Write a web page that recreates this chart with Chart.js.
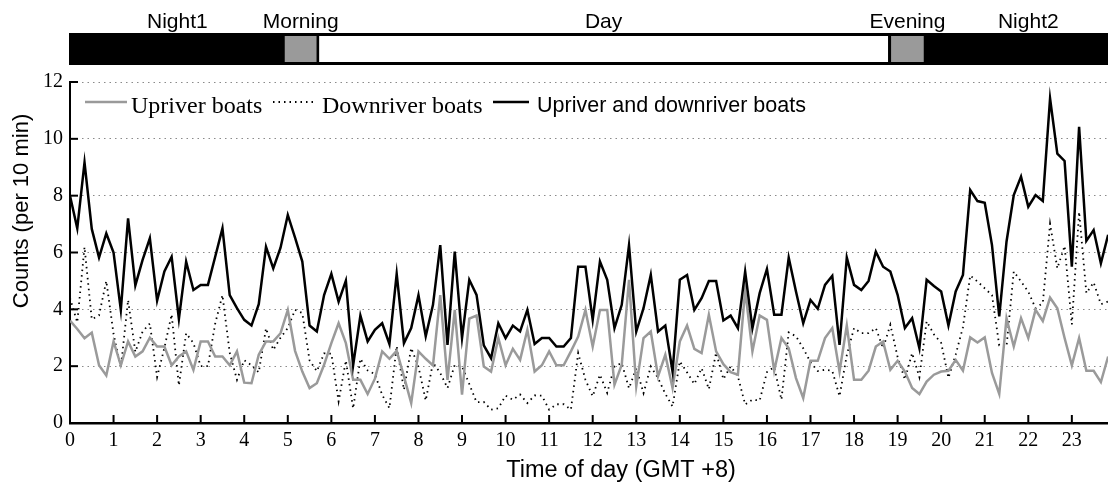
<!DOCTYPE html>
<html>
<head>
<meta charset="utf-8">
<script src="https://cdn.jsdelivr.net/npm/chart.js@4.4.0/dist/chart.umd.min.js"></script>
<style>
  html, body { margin: 0; padding: 0; background: #fff; }
  canvas { display: block; }
</style>
</head>
<body>
<canvas id="myChart" width="1108" height="485"></canvas>
<script>
// boat counts per 10 min, one value per 10-minute slot from 00:00 to 23:50
const upriver = [
  3.6, 3.31, 2.98, 3.18, 2.03, 1.67, 2.87, 2.03, 2.87, 2.34, 2.52, 3.0, 2.69, 2.69, 2.03, 2.34, 2.52, 1.87, 2.87, 2.87, 2.34, 2.34, 2.03, 2.52, 1.42,
  1.4, 2.4, 2.87, 2.87, 3.16, 3.98, 2.54, 1.81, 1.23, 1.4, 2.05, 2.81, 3.51, 2.81, 1.52, 1.52, 1.02, 1.56, 2.52, 2.26, 2.54, 1.64, 0.7, 2.52, 2.26,
  2.03, 4.5, 1.52, 3.98, 1.0, 3.67, 3.78, 1.99, 1.81, 2.99, 2.03, 2.61, 2.22, 3.28, 1.81, 2.03, 2.52, 2.03, 2.03, 2.52, 3.04, 3.98, 2.69, 3.98, 3.98,
  1.35, 2.05, 5.04, 1.29, 2.99, 3.22, 1.64, 2.4, 1.23, 2.87, 3.43, 2.61, 2.46, 3.81, 2.52, 2.07, 1.79, 1.7, 4.68, 2.52, 3.78, 3.63, 1.84, 2.99, 2.63,
  1.58, 0.88, 2.19, 2.19, 2.99, 3.34, 1.81, 3.43, 1.52, 1.52, 1.84, 2.69, 2.87, 1.87, 2.19, 1.81, 1.23, 1.02, 1.46, 1.7, 1.81, 1.84, 2.22, 1.84, 3.01,
  2.83, 3.01, 1.76, 1.02, 3.69, 2.69, 3.69, 2.99, 3.98, 3.59, 4.41, 4.04, 2.99, 2.03, 2.99, 1.84, 1.84, 1.44, 2.34
];
const downriver = [
  4.4, 3.54, 6.19, 3.65, 3.79, 5.0, 3.13, 1.95, 4.33, 2.5, 3.22, 3.5, 1.62, 2.64, 3.82, 1.32, 3.16, 2.81, 2.0, 2.0, 3.5, 4.5, 2.47, 1.52, 2.21,
  2.03, 1.78, 3.33, 2.57, 3.0, 3.34, 3.98, 3.87, 2.2, 1.82, 2.45, 2.44, 0.76, 2.2, 0.51, 2.26, 1.85, 1.72, 0.99, 0.52, 2.71, 1.17, 2.64, 1.98, 0.79,
  2.13, 1.76, 1.23, 2.05, 1.99, 1.37, 0.73, 0.74, 0.47, 0.52, 0.96, 0.82, 1.0, 0.7, 0.97, 0.96, 0.47, 0.66, 0.66, 0.47, 2.46, 1.52, 0.94, 1.7, 1.06,
  1.99, 2.11, 1.22, 1.93, 1.05, 1.99, 1.58, 1.03, 0.58, 2.17, 1.78, 1.37, 1.93, 1.19, 2.48, 1.54, 1.99, 1.64, 0.65, 0.82, 0.79, 1.79, 1.97, 0.82, 3.19,
  3.05, 2.63, 2.14, 1.83, 1.87, 1.84, 0.94, 2.39, 3.34, 3.16, 3.16, 3.34, 2.63, 3.46, 2.32, 1.53, 2.46, 1.61, 3.58, 3.12, 2.82, 1.59, 2.41, 3.37, 5.19,
  4.98, 4.74, 4.5, 2.73, 2.69, 5.33, 4.98, 4.62, 4.04, 4.22, 7.01, 5.44, 6.23, 3.47, 7.43, 4.57, 4.95, 4.18, 4.28
];
const bothWays = [
  8.0, 6.85, 9.17, 6.83, 5.82, 6.67, 6.0, 3.98, 7.2, 4.84, 5.74, 6.5, 4.31, 5.33, 5.85, 3.66, 5.68, 4.68, 4.86, 4.86, 5.85, 6.85, 4.5, 4.04, 3.63,
  3.43, 4.18, 6.2, 5.44, 6.17, 7.32, 6.52, 5.68, 3.43, 3.22, 4.5, 5.25, 4.27, 5.01, 2.03, 3.78, 2.87, 3.28, 3.51, 2.78, 5.25, 2.81, 3.34, 4.5, 3.05,
  4.16, 6.26, 2.75, 6.03, 2.99, 5.04, 4.51, 2.73, 2.28, 3.51, 2.99, 3.43, 3.22, 3.98, 2.78, 2.99, 2.99, 2.69, 2.69, 2.99, 5.5, 5.5, 3.63, 5.68, 5.04,
  3.34, 4.16, 6.26, 3.22, 4.04, 5.21, 3.22, 3.43, 1.81, 5.04, 5.21, 3.98, 4.39, 5.0, 5.0, 3.61, 3.78, 3.34, 5.33, 3.34, 4.57, 5.42, 3.81, 3.81, 5.82,
  4.63, 3.51, 4.33, 4.02, 4.86, 5.18, 2.75, 5.82, 4.86, 4.68, 5.0, 6.03, 5.5, 5.33, 4.51, 3.34, 3.69, 2.63, 5.04, 4.82, 4.63, 3.43, 4.63, 5.21, 8.2,
  7.81, 7.75, 6.26, 3.75, 6.38, 8.02, 8.67, 7.61, 8.02, 7.81, 11.42, 9.48, 9.22, 5.5, 10.42, 6.41, 6.79, 5.62, 6.62
];

// periods of the day shown in the bar above the plot (hours)
const periodNames = ['Night1', 'Morning', 'Day', 'Evening', 'Night2'];
const periodStart = [0, 4.93, 5.72, 18.85, 19.6];
const periodEnd = [4.93, 5.66, 18.78, 19.6, 24.4];

const SERIF = '"Liberation Serif", "Times New Roman", serif';
const SANS = '"Liberation Sans", Arial, sans-serif';
const GREY = '#9a9a9a';

// x position of each 10-minute slot, in hours
const toPoints = arr => arr.map((v, i) => ({ x: i / 6, y: v }));

const periodBar = {
    id: 'periodBar',
    afterDraw(chart) {
        const ctx = chart.ctx;
        const x = chart.scales.x;
        const top = 33, bottom = 65;
        ctx.save();
        ctx.fillStyle = '#000';
        ctx.fillRect(x.left - 1, top, chart.width - x.left + 1, bottom - top);
        const fills = ['#000', GREY, '#fff', GREY, '#000'];
        periodNames.forEach((name, i) => {
            const a = x.getPixelForValue(periodStart[i]);
            const b = x.getPixelForValue(periodEnd[i]);
            if (fills[i] !== '#000') {
                ctx.fillStyle = fills[i];
                ctx.fillRect(a, top + 3, b - a, bottom - top - 6);
            }
            ctx.fillStyle = '#000';
            ctx.font = '21px ' + SANS;
            ctx.textAlign = 'center';
            ctx.textBaseline = 'alphabetic';
            ctx.fillText(name, (a + b) / 2, 28);
        });
        ctx.restore();
    }
};

// inner tick marks, axis titles and the legend row
const decorations = {
    id: 'decorations',
    afterDraw(chart) {
        const ctx = chart.ctx;
        const {x, y} = chart.scales;
        ctx.save();
        ctx.strokeStyle = '#000';
        ctx.lineWidth = 2;
        x.ticks.forEach(t => {
            const px = x.getPixelForValue(t.value);
            ctx.beginPath();
            ctx.moveTo(px, y.bottom);
            ctx.lineTo(px, y.bottom - 8);
            ctx.stroke();
        });
        y.ticks.forEach(t => {
            const py = y.getPixelForValue(t.value);
            ctx.beginPath();
            ctx.moveTo(x.left, py);
            ctx.lineTo(x.left + 8, py);
            ctx.stroke();
        });

        ctx.fillStyle = '#000';
        ctx.font = '23.5px ' + SANS;
        ctx.textAlign = 'center';
        ctx.textBaseline = 'alphabetic';
        ctx.fillText('Time of day (GMT +8)', 621, 477);

        ctx.save();
        ctx.translate(28, 211);
        ctx.rotate(-Math.PI / 2);
        ctx.font = '22px ' + SANS;
        ctx.fillText('Counts (per 10 min)', 0, 0);
        ctx.restore();

        // legend
        const ly = 102;
        ctx.textAlign = 'left';
        ctx.lineWidth = 2.5;
        ctx.strokeStyle = GREY;
        ctx.beginPath(); ctx.moveTo(85, ly); ctx.lineTo(127, ly); ctx.stroke();
        ctx.font = '24px ' + SERIF;
        ctx.fillText('Upriver boats', 131, 113);

        ctx.strokeStyle = '#000';
        ctx.lineWidth = 1.8;
        ctx.setLineDash([1.5, 4]);
        ctx.beginPath(); ctx.moveTo(273, ly); ctx.lineTo(317, ly); ctx.stroke();
        ctx.setLineDash([]);
        ctx.fillText('Downriver boats', 322, 113);

        ctx.lineWidth = 2.5;
        ctx.beginPath(); ctx.moveTo(493, ly); ctx.lineTo(529, ly); ctx.stroke();
        ctx.font = '21.5px ' + SANS;
        ctx.fillText('Upriver and downriver boats', 537, 112);
        ctx.restore();
    }
};

const config = {
    type: 'line',
    data: {
        datasets: [
            {
                label: 'Upriver and downriver boats',
                data: toPoints(bothWays),
                borderColor: '#000',
                borderWidth: 2.5,
                order: 0
            },
            {
                label: 'Upriver boats',
                data: toPoints(upriver),
                borderColor: GREY,
                borderWidth: 2.5,
                order: 1
            },
            {
                label: 'Downriver boats',
                data: toPoints(downriver),
                borderColor: '#000',
                borderWidth: 1.8,
                borderDash: [1.5, 4],
                order: 2
            }
        ]
    },
    options: {
        responsive: false,
        animation: false,
        devicePixelRatio: 1,
        layout: { padding: { top: 82, left: 0, right: 0, bottom: 0 } },
        elements: {
            point: { radius: 0 },
            line: { tension: 0, fill: false }
        },
        plugins: {
            legend: { display: false },
            tooltip: { enabled: false }
        },
        scales: {
            x: {
                type: 'linear',
                min: 0,
                max: 23.83,
                afterFit: s => { s.height = 62; },
                grid: { color: 'transparent', drawTicks: false },
                border: { display: true, color: '#000', width: 2.5 },
                ticks: {
                    stepSize: 1,
                    includeBounds: false,
                    autoSkip: false,
                    maxRotation: 0,
                    padding: 6,
                    color: '#000',
                    font: { family: SERIF, size: 20 },
                    callback: v => v
                }
            },
            y: {
                min: 0,
                max: 12,
                afterFit: s => { s.width = 70; },
                grid: {
                    color: c => (c.tick && c.tick.value === 0) ? 'transparent' : '#8a8a8a',
                    lineWidth: 1,
                    drawTicks: false
                },
                border: { display: true, color: '#000', width: 2, dash: [1.5, 4] },
                ticks: {
                    stepSize: 2,
                    padding: 7,
                    color: '#000',
                    font: { family: SERIF, size: 20 }
                }
            }
        }
    },
    plugins: [periodBar, decorations]
};

const ctx = document.getElementById('myChart').getContext('2d');
new Chart(ctx, config);
</script>
</body>
</html>
